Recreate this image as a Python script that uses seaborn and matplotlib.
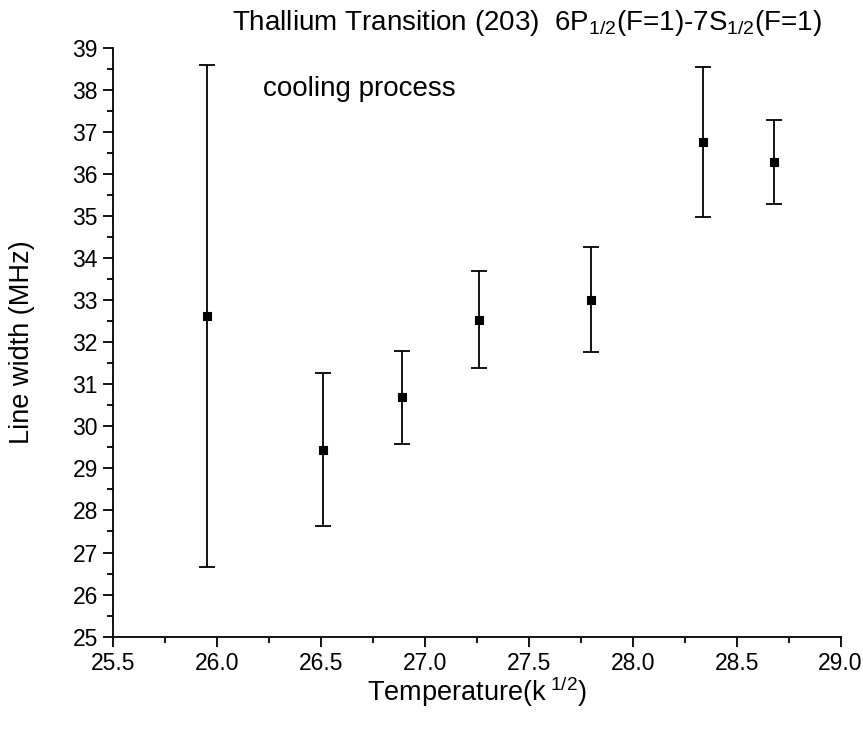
import matplotlib
matplotlib.use("Agg")
import matplotlib.pyplot as plt
import seaborn as sns
import pandas as pd
from matplotlib.ticker import MultipleLocator

temperature = [25.95, 26.51, 26.89, 27.26, 27.80, 28.34, 28.68]
line_width = [32.63, 29.45, 30.69, 32.54, 33.02, 36.77, 36.30]
width_err = [5.98, 1.82, 1.10, 1.16, 1.24, 1.79, 1.00]

df = pd.DataFrame({"T": temperature, "W": line_width, "err": width_err})

sns.set_style("ticks")
plt.rcParams['font.family'] = ['Liberation Sans', 'DejaVu Sans']
plt.rcParams['mathtext.fontset'] = 'custom'
plt.rcParams['mathtext.rm'] = 'Liberation Sans'
plt.rcParams['mathtext.it'] = 'Liberation Sans'
plt.rcParams['text.color'] = 'black'
plt.rcParams['axes.labelcolor'] = 'black'
plt.rcParams['xtick.color'] = 'black'
plt.rcParams['ytick.color'] = 'black'

fig = plt.figure(figsize=(8.63, 7.30), dpi=100)
ax = fig.add_axes([0.131, 0.128, 0.843, 0.806])

ax.errorbar(df["T"], df["W"], yerr=df["err"], fmt='none', ecolor='black',
            elinewidth=1.3, capsize=6, capthick=1.3, zorder=2)
sns.scatterplot(data=df, x="T", y="W", marker='s', s=30, color='black',
                edgecolor='black', linewidth=0.8, ax=ax, zorder=3)

ax.set_xlim(25.5, 29.0)
ax.set_ylim(25, 39)
ax.xaxis.set_major_locator(MultipleLocator(0.5))
ax.xaxis.set_minor_locator(MultipleLocator(0.25))
ax.yaxis.set_major_locator(MultipleLocator(1))
ax.yaxis.set_minor_locator(MultipleLocator(0.5))
ax.xaxis.set_major_formatter(matplotlib.ticker.FormatStrFormatter('%.1f'))
ax.tick_params(axis='both', which='major', length=7, width=1.3, labelsize=16.5,
               color='black', labelcolor='black', pad=4)
ax.tick_params(axis='both', which='minor', length=4, width=1.3, color='black')
for side in ['top', 'right']:
    ax.spines[side].set_visible(False)
for side in ['left', 'bottom']:
    ax.spines[side].set_linewidth(1.3)
    ax.spines[side].set_color('black')

ax.set_xlabel(r"Temperature(k$^{\ 1/2}$)", fontsize=19.5, labelpad=0)
ax.set_ylabel("Line width (MHz)", fontsize=19.5, labelpad=27)

ax.text(26.22, 38.03, "cooling process", fontsize=20, va='center', ha='left')
fig.text(0.611, 0.968, r"Thallium Transition (203)  6P$_{1/2}$(F=1)-7S$_{1/2}$(F=1)",
         fontsize=20, ha='center', va='center')

fig.savefig("out.png", dpi=100)
